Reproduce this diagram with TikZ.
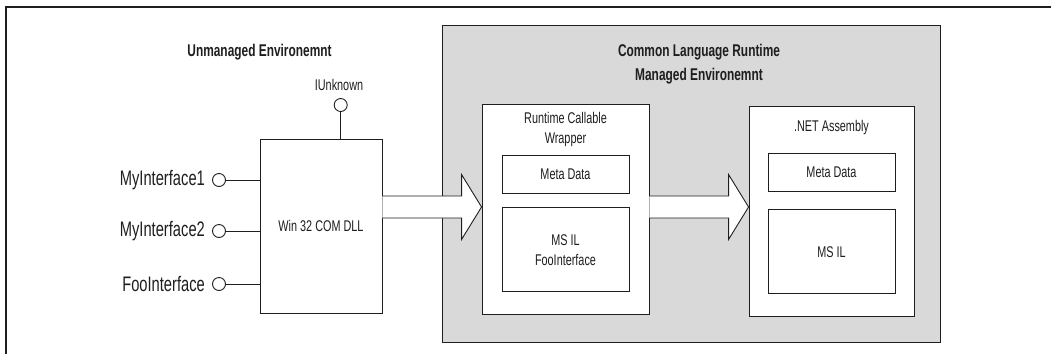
\documentclass[tikz,border=0pt]{standalone}
\usepackage{fontspec}
\setmainfont[FakeStretch=0.7]{Liberation Sans}
\usetikzlibrary{positioning, calc}

\definecolor{ink}{RGB}{30,30,30}
\definecolor{clrgray}{RGB}{217,217,217}

% hollow block arrow from #1 (open tail) to #2 (tip)
\newcommand{\hollowarrow}[2]{%
  \draw[hollow] ($(#1)+(0,-11)$) -- ($(#2)+(-20,-11)$) -- ($(#2)+(-20,-32.5)$) -- (#2)
    -- ($(#2)+(-20,32.5)$) -- ($(#2)+(-20,11)$) -- ($(#1)+(0,11)$);
}

\begin{document}
\begin{tikzpicture}[x=1pt, y=-1pt,
  % --- Styles ---
  box/.style={
    rectangle, draw=ink, line width=0.9pt, fill=white, inner sep=0pt,
    align=center, text=ink, font=\fontsize{15.5}{20}\selectfont
  },
  port/.style={
    circle, draw=ink, line width=0.9pt, fill=white, inner sep=0pt, minimum size=13pt
  },
  portlabel/.style={
    font=\fontsize{21}{22}\selectfont, text=ink, inner sep=0pt
  },
  title/.style={
    font=\bfseries\fontsize{17}{24}\selectfont, align=center, text=ink
  },
  caption/.style={
    font=\fontsize{15.5}{20}\selectfont, align=center, text=ink
  },
  wire/.style={
    draw=ink, line width=0.9pt
  },
  hollow/.style={
    draw=ink, line width=0.9pt, fill=white, line join=miter
  }
]
\useasboundingbox (0,0) rectangle (1051,354);

% --- Frame ---
\draw[ink, line width=1.2pt] (6,354) |- (1051,7);

% --- 1. Managed side (CLR) ---
\node[box, fill=clrgray, minimum width=498pt, minimum height=317pt] (clr) at (691,183.5) {};
\node[title] (clr_title) at (699,64) {Common Language Runtime\\Managed Environemnt};

% --- 2. Unmanaged side ---
\node[title] (unm_title) at (259.5,52) {Unmanaged Environemnt};
\node[box, minimum width=122pt, minimum height=174pt] (dll) at (321,226) {Win 32 COM DLL};

% IUnknown on top
\node[port] (iunk) at (340.7,105) {};
\node[caption] (iunk_lbl) at (339,85) {IUnknown};
\draw[wire] (iunk.south) -- (iunk |- dll.north);

% Interfaces on the left
\node[port] (if1) at (219,180) {};
\node[port] (if2) at (219,231) {};
\node[port] (if3) at (219,284) {};
\node[portlabel, left=7pt of if1] (if1_lbl) {MyInterface1};
\node[portlabel, left=7pt of if2] (if2_lbl) {MyInterface2};
\node[portlabel, left=7pt of if3] (if3_lbl) {FooInterface};
\foreach \p in {if1, if2, if3}
  \draw[wire] (\p.east) -- (dll.west |- \p);

% --- 3. Runtime Callable Wrapper ---
\node[box, minimum width=167pt, minimum height=210pt] (rcw) at (565.5,209) {};
\node[caption] (rcw_title) at ($(rcw.north)+(0,26)$) {Runtime Callable\\Wrapper};
\node[box, minimum width=127pt, minimum height=38pt, below=51pt of rcw.north] (rcw_meta) {Meta Data};
\node[box, minimum width=127pt, minimum height=84pt, below=14pt of rcw_meta] (rcw_il) {MS IL\\FooInterface};

% --- 4. .NET Assembly ---
\node[box, minimum width=165pt, minimum height=210pt] (asm) at (831.5,211) {};
\node[caption] (asm_title) at ($(asm.north)+(0,22)$) {.NET Assembly};
\node[box, minimum width=127pt, minimum height=38pt, below=47pt of asm.north] (asm_meta) {Meta Data};
\node[box, minimum width=127pt, minimum height=84pt, below=18pt of asm_meta] (asm_il) {MS IL};

% --- 5. Block arrows ---
\coordinate (axis) at (0,207);
\coordinate (a1_from) at (dll.east |- axis);
\coordinate (a1_to) at (rcw.west |- axis);
\coordinate (a2_from) at (rcw.east |- axis);
\coordinate (a2_to) at (asm.west |- axis);
\hollowarrow{a1_from}{a1_to}
\hollowarrow{a2_from}{a2_to}

\end{tikzpicture}
\end{document}
